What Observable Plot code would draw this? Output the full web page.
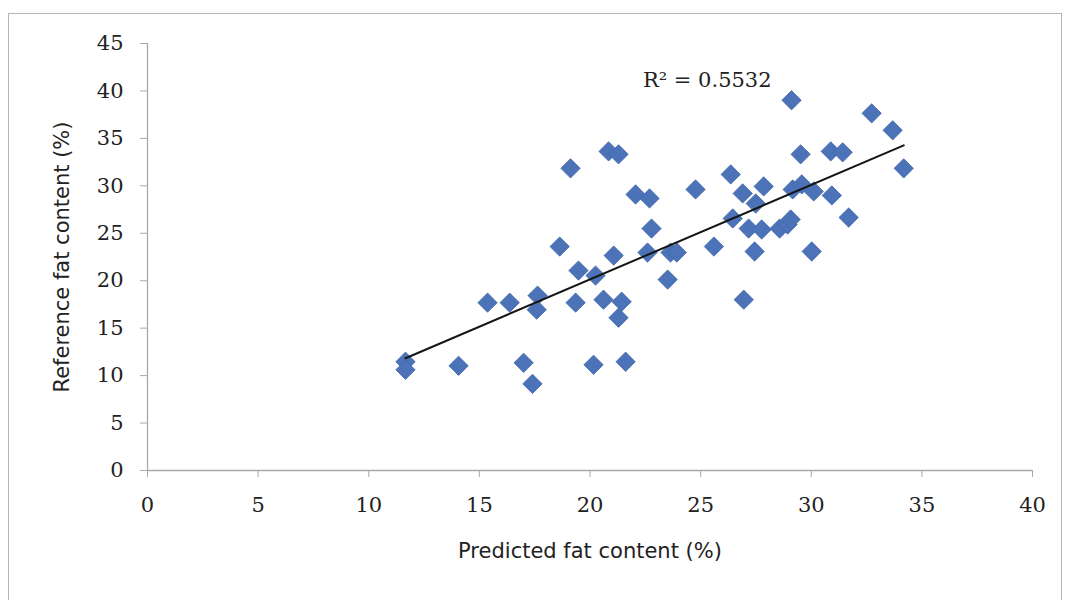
<!DOCTYPE html>
<html>
<head>
<meta charset="utf-8">
<script src="https://cdn.jsdelivr.net/npm/d3@7"></script>
<script src="https://cdn.jsdelivr.net/npm/@observablehq/plot@0.6"></script>
<style>
  html, body { margin: 0; padding: 0; background: #fff; }
  #wrap { position: relative; width: 1066px; height: 600px; overflow: hidden; }
  #frame { position: absolute; left: 8px; top: 13px; width: 1054px; height: 620px; border: 1px solid #b5b5b5; box-sizing: border-box; }
  #chart { position: absolute; left: 0; top: 0; }
</style>
</head>
<body>
<div id="wrap"><div id="frame"></div><div id="chart"></div></div>
<script>
// Predicted fat content (%)
const predicted = [
  11.66, 11.66, 14.06, 15.37, 16.37, 17.00, 17.40, 17.63, 17.59, 18.63,
  19.12, 19.48, 19.35, 20.25, 20.16, 20.61, 20.84, 21.29, 21.07, 21.43,
  21.29, 21.61, 22.06, 22.69, 22.78, 22.60, 23.51, 23.64, 23.92, 24.77,
  25.60, 26.36, 26.45, 26.90, 26.95, 27.17, 27.49, 27.44, 27.76, 27.85,
  28.57, 28.93, 29.07, 29.16, 29.11, 29.52, 29.57, 30.02, 30.11, 30.88,
  31.42, 30.93, 31.69, 32.73, 33.68, 34.18
];
// Reference fat content (%)
const reference = [
  11.46, 10.61, 11.03, 17.69, 17.69, 11.35, 9.13, 18.43, 16.95, 23.60,
  31.84, 21.07, 17.69, 20.54, 11.14, 18.00, 33.63, 33.32, 22.65, 17.79,
  16.10, 11.46, 29.09, 28.67, 25.50, 22.97, 20.12, 22.97, 22.97, 29.62,
  23.60, 31.20, 26.56, 29.20, 18.00, 25.50, 28.14, 23.08, 25.40, 29.94,
  25.50, 25.92, 26.45, 29.62, 39.02, 33.32, 30.15, 23.08, 29.41, 33.63,
  33.53, 28.99, 26.66, 37.64, 35.85, 31.84
];
const xTicks = [0, 5, 10, 15, 20, 25, 30, 35, 40];
const yTicks = [0, 5, 10, 15, 20, 25, 30, 35, 40, 45];
const xTitle = "Predicted fat content (%)";
const yTitle = "Reference fat content (%)";
const r2Label = [{x: 25.3, y: 41.1, text: "R\u00B2 = 0.5532"}];

const data = predicted.map((x, i) => ({x, y: reference[i]}));

const serif = "'DejaVu Serif', 'Liberation Serif', serif";
const sans = "'DejaVu Sans', Verdana, sans-serif";
const axisGrey = "#a9a9a9";

const chart = Plot.plot({
  width: 1066,
  height: 600,
  marginLeft: 147,
  marginRight: 34,
  marginTop: 43,
  marginBottom: 130,
  style: {background: "transparent", color: "#222"},
  x: {domain: [0, 40], axis: null},
  y: {domain: [0, 45], axis: null},
  marks: [
    Plot.ruleY([0], {stroke: axisGrey, strokeWidth: 1.3}),
    Plot.ruleX([0], {stroke: axisGrey, strokeWidth: 1.3}),
    Plot.axisX({ticks: xTicks, tickSize: 7, tickPadding: 20, stroke: axisGrey, fill: "#222",
      fontSize: 21, fontFamily: serif, label: null, tickFormat: d => String(d)}),
    Plot.axisY({ticks: yTicks, tickSize: 7, tickPadding: 17, stroke: axisGrey, fill: "#222",
      fontSize: 21, fontFamily: serif, label: null, tickFormat: d => String(d)}),
    Plot.text([xTitle], {frameAnchor: "bottom", dy: 81, text: d => d, fontSize: 21,
      textAnchor: "middle", lineAnchor: "middle", fontFamily: sans, fill: "#222"}),
    Plot.text([yTitle], {frameAnchor: "left", dx: -85, rotate: -90, text: d => d, fontSize: 21,
      textAnchor: "middle", lineAnchor: "middle", fontFamily: sans, fill: "#222"}),
    Plot.dot(data, {x: "x", y: "y", symbol: "diamond2", r: 8.7, fill: "#4c73b7",
      stroke: "#4066aa", strokeWidth: 0.8}),
    Plot.linearRegressionY(data, {x: "x", y: "y", stroke: "#151515", strokeWidth: 2, ci: 0}),
    Plot.text(r2Label, {x: "x", y: "y", text: "text", fontSize: 21, fontFamily: serif, fill: "#222"})
  ]
});
document.getElementById("chart").appendChild(chart);
</script>
</body>
</html>
